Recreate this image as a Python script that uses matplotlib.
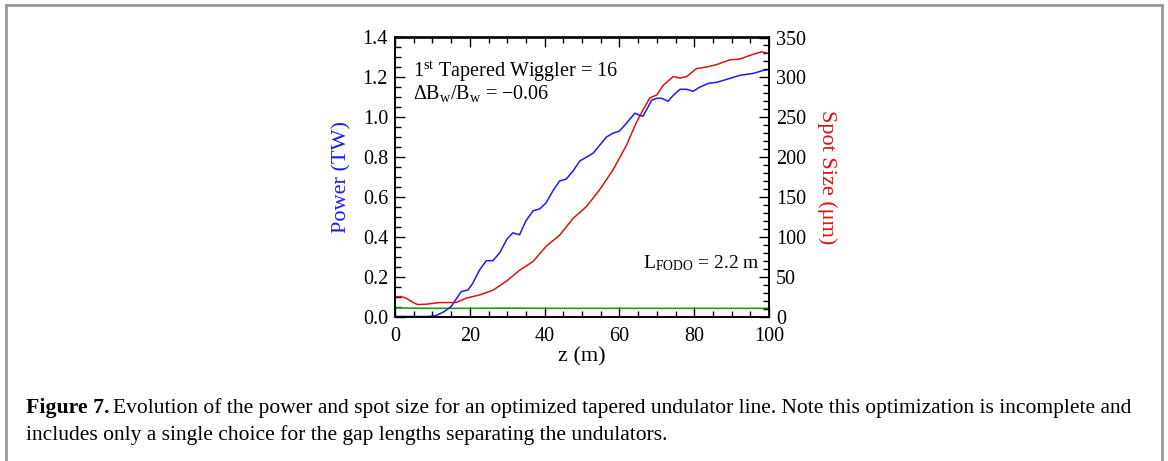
import matplotlib
matplotlib.use("Agg")
import matplotlib.pyplot as plt
from matplotlib.lines import Line2D
from matplotlib.ticker import MultipleLocator, FormatStrFormatter

plt.rcParams['font.family'] = ['Liberation Serif', 'DejaVu Serif']
plt.rcParams['mathtext.fontset'] = 'custom'
plt.rcParams['mathtext.rm'] = 'Liberation Serif'
plt.rcParams['mathtext.it'] = 'Liberation Serif:italic'
plt.rcParams['mathtext.bf'] = 'Liberation Serif:bold'

# power (TW) along z (m)
power_z = [0, 5, 9, 11, 13.2, 15, 16.8, 17.7, 19.5, 20.8, 22.6, 24.4, 26.2, 28, 30,
           31.5, 33.3, 35, 36.9, 38.7, 40.4, 42.2, 44, 45.8, 47.6, 49.4, 53, 56.5,
           58.3, 60, 61.9, 64.1, 65.4, 66.3, 67.2, 68.6, 70, 71.3, 73, 74.4, 76.2,
           78, 79.7, 81.4, 83.8, 86, 88.7, 92.2, 95.8, 98.5, 100]
power_tw = [0.0, 0.0, 0.0, 0.005, 0.025, 0.05, 0.1, 0.125, 0.133, 0.167, 0.233, 0.28,
            0.28, 0.32, 0.39, 0.42, 0.41, 0.48, 0.53, 0.54, 0.57, 0.63, 0.68, 0.69,
            0.73, 0.78, 0.82, 0.9, 0.92, 0.93, 0.97, 1.02, 1.01, 1.005, 1.035, 1.085,
            1.095, 1.095, 1.08, 1.11, 1.14, 1.14, 1.13, 1.15, 1.17, 1.175, 1.19, 1.21,
            1.22, 1.235, 1.24]

# spot size (um) along z (m)
spot_z = [0, 1.6, 3, 4.7, 6, 8.3, 11.9, 16.3, 19, 22.6, 26.2, 29.7, 33.3, 36.9, 40.4,
          44, 47.6, 51.2, 54.7, 58.3, 61.9, 64.5, 66.3, 68.1, 70, 71.7, 74.4, 76.2,
          78, 80.6, 83.3, 86, 89.5, 92.2, 95.8, 98, 100]
spot_um = [25, 25, 23, 18, 15, 15.4, 17.5, 17.5, 23, 27, 33, 44, 58, 69, 88,
           102, 123, 138, 159, 184, 215, 243, 259, 274, 278, 290, 301, 299, 301, 311,
           313, 316, 322, 323, 329, 332, 330]

# third trace (green), read on the power axis
green_z = [0, 10, 20, 30, 40, 50, 60, 70, 80, 90, 100]
green_tw = [0.043, 0.041, 0.041, 0.042, 0.041, 0.041, 0.041, 0.041, 0.041, 0.041, 0.041]

fig = plt.figure(figsize=(11.68, 4.61), dpi=100)
ax = fig.add_axes([395 / 1168, 1 - 316.5 / 461, 374 / 1168, 279 / 461])
ax2 = ax.twinx()

ax.plot(green_z, green_tw, color='#1f9a1f', lw=1.2)
ax.plot(power_z, power_tw, color='#1a1aff', lw=1.1)
ax2.plot(spot_z, spot_um, color='#d41515', lw=1.1)

ax.set_xlim(0, 100)
ax.set_ylim(0, 1.4)
ax2.set_ylim(0, 350)
ax.xaxis.set_major_locator(MultipleLocator(20))
ax.xaxis.set_minor_locator(MultipleLocator(5))
ax.yaxis.set_major_locator(MultipleLocator(0.2))
ax.yaxis.set_minor_locator(MultipleLocator(0.05))
ax2.yaxis.set_major_locator(MultipleLocator(50))
ax2.yaxis.set_minor_locator(MultipleLocator(10))
ax.yaxis.set_major_formatter(FormatStrFormatter('%.1f'))

ax.tick_params(axis='x', which='both', direction='in', top=True, labelsize=14.5, pad=7.5)
ax.tick_params(axis='y', which='both', direction='in', right=False, labelsize=14.5, pad=5)
ax2.tick_params(axis='y', which='both', direction='in', labelsize=14.5, pad=5)
for a in (ax, ax2):
    a.tick_params(which='major', length=7, width=1)
    a.tick_params(which='minor', length=4, width=1)
    for s in a.spines.values():
        s.set_linewidth(1.2)

ax.set_xlabel('z (m)', fontsize=16, labelpad=1)
ax.set_ylabel('Power (TW)', fontsize=16, color='#1a1aff', labelpad=8)
ax2.set_ylabel('Spot Size (\u03bcm)', fontsize=16, color='#d41515', rotation=-90, labelpad=22)

ax.text(4.7, 1.2, r'1$^{\rm st}$ Tapered Wiggler = 16', fontsize=14.5)
ax.text(4.7, 1.09, r'$\Delta$B$_{\rm w}$/B$_{\rm w}$ = ' + '\u22120.06', fontsize=14.5)
ax.text(66.2, 0.243, r'L$_{\rm FODO}$ = 2.2 m', fontsize=14)

# outer frame (open at the bottom)
frame = dict(color='#9a9a9a', lw=2, transform=fig.transFigure)
fig.add_artist(Line2D([6 / 1168, 6 / 1168], [0, 1 - 5 / 461], **frame))
fig.add_artist(Line2D([1162 / 1168, 1162 / 1168], [0, 1 - 5 / 461], **frame))
fig.add_artist(Line2D([6 / 1168, 1162 / 1168], [1 - 5 / 461, 1 - 5 / 461], **frame))

fig.text(26 / 1168, 1 - 413 / 461, 'Figure 7.', fontsize=15.7, fontweight='bold')
fig.text(113 / 1168, 1 - 413 / 461,
         'Evolution of the power and spot size for an optimized tapered '
         'undulator line. Note this optimization is incomplete and', fontsize=15.5)
fig.text(26 / 1168, 1 - 440 / 461,
         'includes only a single choice for the gap lengths separating the undulators.',
         fontsize=15.5)

fig.savefig('out.png', dpi=100)
